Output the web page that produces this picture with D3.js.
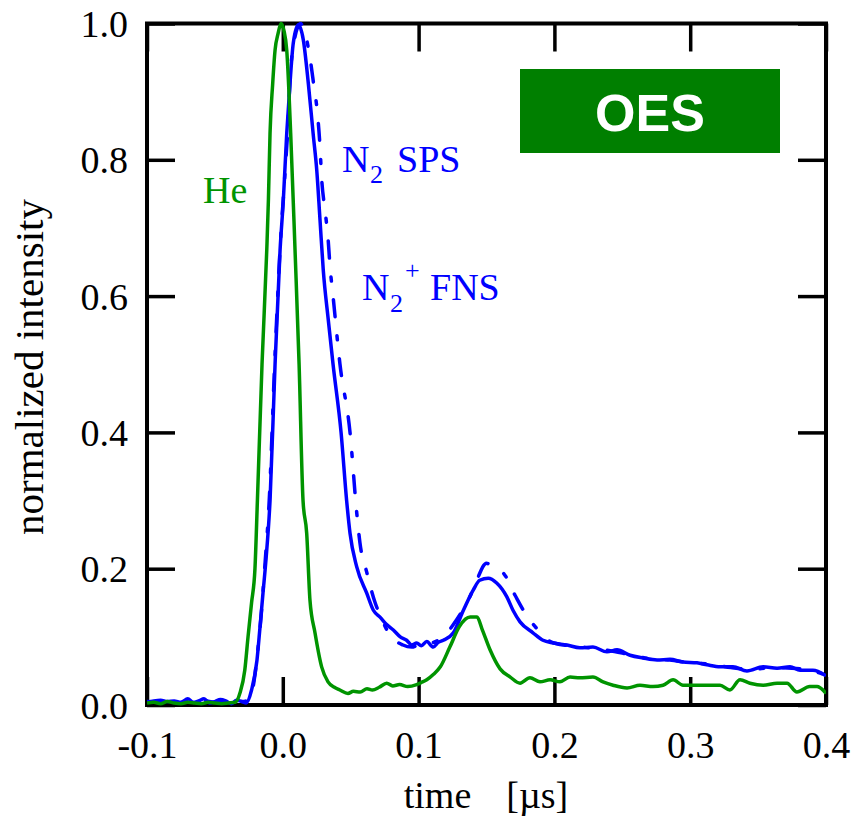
<!DOCTYPE html>
<html>
<head>
<meta charset="utf-8">
<script src="https://cdn.jsdelivr.net/npm/d3@7/dist/d3.min.js"></script>
<style>
  html, body { margin: 0; padding: 0; background: #fff; }
  svg { display: block; }
  text { font-family: "Liberation Serif", "Times New Roman", serif; }
</style>
</head>
<body>
<svg id="chart" width="854" height="819"></svg>
<script>
// Time axis [µs] and normalized intensity ticks
const xTicks = [-0.1, 0.0, 0.1, 0.2, 0.3, 0.4];
const yTicks = [0.0, 0.2, 0.4, 0.6, 0.8, 1.0];

// He emission, [time µs, normalized intensity]
const heSeries = [
  [-0.100,0.003],[-0.095,0.004],[-0.090,0.002],[-0.085,0.005],[-0.080,0.003],[-0.075,0.002],
  [-0.070,0.004],[-0.065,0.003],[-0.060,0.002],[-0.055,0.004],[-0.050,0.003],[-0.045,0.002],
  [-0.040,0.003],[-0.035,0.004],[-0.0315,0.018],[-0.028,0.051],[-0.0256,0.100],[-0.023,0.150],
  [-0.0205,0.200],[-0.0187,0.300],[-0.0153,0.500],[-0.0118,0.668],[-0.0106,0.741],[-0.0094,0.839],
  [-0.0075,0.910],[-0.0057,0.961],[-0.0035,0.985],[-0.0013,1.000],[0.0008,0.990],[0.0029,0.961],
  [0.0058,0.839],[0.0090,0.668],[0.0120,0.500],[0.0149,0.300],[0.0176,0.252],[0.0200,0.154],
  [0.0237,0.106],[0.0286,0.056],[0.0333,0.034],[0.0380,0.026],[0.0420,0.022],[0.0480,0.017],
  [0.0520,0.020],[0.0570,0.019],[0.0620,0.024],[0.0660,0.022],[0.0710,0.026],[0.0765,0.032],
  [0.0810,0.028],[0.0860,0.030],[0.0920,0.027],[0.0986,0.030],[0.1020,0.033],[0.1060,0.037],
  [0.1110,0.045],[0.1160,0.056],[0.1230,0.085],[0.1300,0.115],[0.1380,0.129],[0.1430,0.129],
  [0.1470,0.110],[0.1526,0.081],[0.1600,0.053],[0.1675,0.041],[0.1747,0.032],[0.1820,0.040],
  [0.1894,0.034],[0.1968,0.037],[0.2041,0.034],[0.2115,0.041],[0.2188,0.040],[0.2284,0.041],
  [0.2358,0.034],[0.2432,0.029],[0.2535,0.025],[0.2630,0.029],[0.2726,0.027],[0.2800,0.029],
  [0.2874,0.037],[0.2947,0.029],[0.3021,0.029],[0.3124,0.029],[0.3220,0.029],[0.3292,0.022],
  [0.3367,0.037],[0.3440,0.032],[0.3537,0.029],[0.3640,0.032],[0.3713,0.032],[0.3786,0.019],
  [0.3880,0.027],[0.3934,0.027],[0.4000,0.017]
];

// N2 second positive system
const n2spsSeries = [
  [-0.100,0.004],[-0.095,0.006],[-0.090,0.007],[-0.085,0.005],[-0.080,0.006],[-0.075,0.004],
  [-0.070,0.009],[-0.066,0.004],[-0.062,0.006],[-0.058,0.009],[-0.054,0.003],[-0.050,0.005],
  [-0.046,0.008],[-0.042,0.006],[-0.038,0.002],[-0.034,0.007],[-0.030,0.005],[-0.027,0.003],
  [-0.023,0.022],[-0.019,0.066],[-0.0168,0.114],[-0.0146,0.164],[-0.0124,0.213],[-0.0094,0.300],
  [-0.0057,0.500],[-0.0020,0.668],[0.0004,0.741],[0.0029,0.839],[0.0053,0.912],[0.0077,0.971],
  [0.0114,0.998],[0.0151,0.976],[0.0188,0.912],[0.0225,0.835],[0.0250,0.785],[0.0274,0.712],
  [0.0298,0.638],[0.0335,0.565],[0.0370,0.500],[0.0429,0.400],[0.0470,0.300],[0.0495,0.252],
  [0.0544,0.203],[0.0618,0.164],[0.0667,0.139],[0.0716,0.129],[0.0765,0.118],[0.0814,0.110],
  [0.0865,0.100],[0.0912,0.095],[0.0950,0.088],[0.0986,0.091],[0.1020,0.087],[0.1060,0.093],
  [0.1108,0.085],[0.1145,0.092],[0.1182,0.095],[0.1256,0.106],[0.1330,0.139],[0.1403,0.169],
  [0.1450,0.183],[0.1513,0.186],[0.1575,0.179],[0.1649,0.159],[0.1695,0.139],[0.1747,0.122],
  [0.1842,0.106],[0.1916,0.095],[0.1990,0.091],[0.2093,0.088],[0.2188,0.084],[0.2284,0.085],
  [0.2387,0.078],[0.2461,0.081],[0.2557,0.073],[0.2652,0.069],[0.2756,0.066],[0.2851,0.067],
  [0.2947,0.063],[0.3050,0.062],[0.3124,0.059],[0.3220,0.056],[0.3315,0.056],[0.3418,0.050],
  [0.3537,0.056],[0.3640,0.054],[0.3735,0.056],[0.3809,0.051],[0.3904,0.051],[0.4000,0.043]
];

// N2+ first negative system
const n2pfnsSeries = [
  [-0.100,0.005],[-0.090,0.004],[-0.080,0.006],[-0.070,0.005],[-0.060,0.007],[-0.050,0.004],
  [-0.040,0.006],[-0.030,0.005],[-0.025,0.008],[-0.022,0.025],[-0.019,0.070],[-0.016,0.130],
  [-0.013,0.210],[-0.010,0.300],[-0.006,0.500],[-0.002,0.670],[0.0016,0.780],[0.0038,0.850],
  [0.0053,0.917],[0.0080,0.970],[0.0130,1.000],[0.0149,0.995],[0.0200,0.950],[0.0230,0.907],
  [0.0250,0.878],[0.0274,0.819],[0.0286,0.773],[0.0311,0.726],[0.0333,0.685],[0.0348,0.643],
  [0.0370,0.600],[0.0421,0.500],[0.0495,0.400],[0.0544,0.283],[0.0568,0.238],[0.0618,0.195],
  [0.0680,0.150],[0.0725,0.128],[0.0775,0.107],[0.0885,0.088],[0.0950,0.085],[0.1000,0.088],
  [0.1080,0.090],[0.1180,0.100],[0.1280,0.125],[0.1380,0.160],[0.1428,0.183],[0.1500,0.208],
  [0.1560,0.200],[0.1622,0.194],[0.1710,0.161],[0.1784,0.135],[0.1894,0.107],[0.1970,0.093],
  [0.2100,0.087],[0.2250,0.084],[0.2400,0.080],[0.2550,0.074],[0.2700,0.068],[0.2850,0.066],
  [0.3000,0.062],[0.3150,0.060],[0.3300,0.055],[0.3450,0.052],[0.3600,0.055],[0.3750,0.054],
  [0.3900,0.050],[0.4000,0.044]
];

const GREEN = "#009400";
const BLUE = "#0000ff";

const svg = d3.select("#chart");
const plotLeft = 147, plotRight = 826, plotTop = 23.5, plotBottom = 705;

const x = d3.scaleLinear().domain([-0.1, 0.4]).range([plotLeft, plotRight]);
const y = d3.scaleLinear().domain([0, 1.0]).range([plotBottom, plotTop]);

svg.append("defs").append("clipPath").attr("id", "plotClip")
  .append("rect").attr("x", plotLeft).attr("y", plotTop - 2)
  .attr("width", plotRight - plotLeft).attr("height", plotBottom - plotTop + 4);

const fmt = v => v.toFixed(1);
const TICK = 28;

// Inward ticks on all four sides
function styleAxis(g) {
  g.select(".domain").remove();
  g.selectAll(".tick line").attr("stroke", "#000").attr("stroke-width", 3.5);
  g.selectAll(".tick text").attr("fill", "#000").style("font-size", "38px")
    .style("font-family", "'Liberation Serif', 'Times New Roman', serif");
}

svg.append("g").attr("transform", `translate(0,${plotBottom})`)
  .call(d3.axisBottom(x).tickValues(xTicks).tickFormat(fmt).tickSizeInner(-TICK).tickSizeOuter(0).tickPadding(0))
  .call(styleAxis)
  .call(g => g.selectAll(".tick text").attr("y", 53).attr("dy", null));

svg.append("g").attr("transform", `translate(0,${plotTop})`)
  .call(d3.axisTop(x).tickValues(xTicks).tickFormat("").tickSizeInner(-TICK).tickSizeOuter(0))
  .call(styleAxis);

svg.append("g").attr("transform", `translate(${plotLeft},0)`)
  .call(d3.axisLeft(y).tickValues(yTicks).tickFormat(fmt).tickSizeInner(-TICK).tickSizeOuter(0))
  .call(styleAxis)
  .call(g => g.selectAll(".tick text").attr("x", -19).attr("dy", 13));

svg.append("g").attr("transform", `translate(${plotRight},0)`)
  .call(d3.axisRight(y).tickValues(yTicks).tickFormat("").tickSizeInner(-TICK).tickSizeOuter(0))
  .call(styleAxis);

// Frame
svg.append("rect")
  .attr("x", plotLeft).attr("y", plotTop).attr("width", plotRight - plotLeft).attr("height", plotBottom - plotTop)
  .attr("fill", "none").attr("stroke", "#000").attr("stroke-width", 4);

// Curves
const line = d3.line().x(d => x(d[0])).y(d => y(d[1])).curve(d3.curveMonotoneX);
const curves = svg.append("g").attr("clip-path", "url(#plotClip)");

curves.append("path").datum(n2pfnsSeries)
  .attr("d", line).attr("fill", "none").attr("stroke", BLUE).attr("stroke-width", 3.5)
  .attr("stroke-dasharray", "17,19,4,19").attr("stroke-linecap", "round");

curves.append("path").datum(n2spsSeries)
  .attr("d", line).attr("fill", "none").attr("stroke", BLUE).attr("stroke-width", 3.5)
  .attr("stroke-linejoin", "round");

curves.append("path").datum(heSeries)
  .attr("d", line).attr("fill", "none").attr("stroke", GREEN).attr("stroke-width", 3.5)
  .attr("stroke-linejoin", "round");

// Series labels
svg.append("text").attr("x", 203).attr("y", 203).attr("fill", GREEN)
  .style("font-size", "38px").text("He");

const sps = svg.append("text").attr("x", 342).attr("y", 172).attr("fill", BLUE).style("font-size", "38px");
sps.append("tspan").text("N");
sps.append("tspan").attr("x", 370).attr("dy", 11).style("font-size", "26px").text("2");
sps.append("tspan").attr("x", 397).attr("dy", -11).text("SPS");

const fns = svg.append("text").attr("x", 362).attr("y", 300).attr("fill", BLUE).style("font-size", "38px");
fns.append("tspan").text("N");
fns.append("tspan").attr("x", 390).attr("dy", 12).style("font-size", "26px").text("2");
fns.append("tspan").attr("x", 405).attr("dy", -33).style("font-size", "26px").text("+");
fns.append("tspan").attr("x", 430).attr("dy", 21).text("FNS");

// OES badge
svg.append("rect").attr("x", 520).attr("y", 69).attr("width", 260).attr("height", 84).attr("fill", "#007f00");
svg.append("text").attr("x", 650).attr("y", 131).attr("text-anchor", "middle").attr("fill", "#fff")
  .style("font-family", "'Liberation Sans', Arial, sans-serif").style("font-weight", "bold")
  .style("font-size", "52px").text("OES");

// Axis titles
const xt = svg.append("text").attr("x", 486).attr("y", 808).attr("text-anchor", "middle")
  .attr("fill", "#000").style("font-size", "38px");
xt.append("tspan").text("time");
xt.append("tspan").attr("dx", 35).text("[µs]");

svg.append("text").attr("transform", "translate(43,367) rotate(-90)").attr("text-anchor", "middle")
  .attr("fill", "#000").style("font-size", "41px").text("normalized intensity");
</script>
</body>
</html>
